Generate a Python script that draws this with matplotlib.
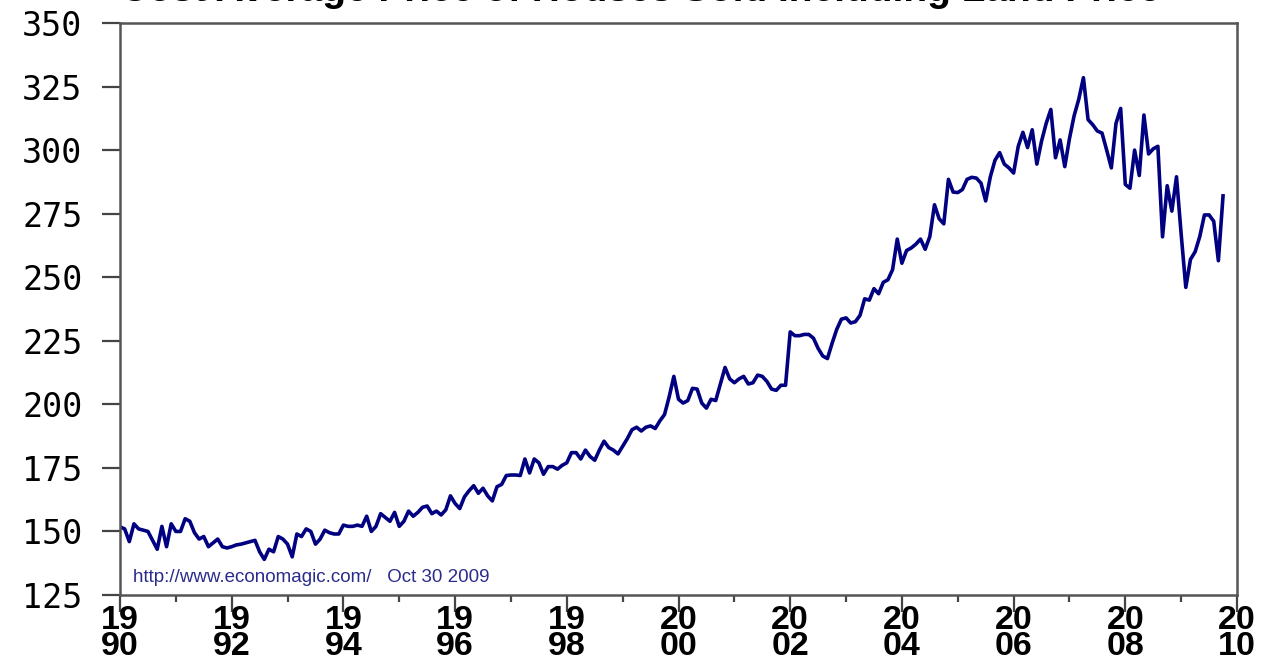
import matplotlib
matplotlib.use("Agg")
import matplotlib.pyplot as plt
import numpy as np

# monthly values, Jan 1990 onwards (thousand $)
start_year = 1990
price = [
    # 1990
    151.8, 151, 146, 153, 151, 150.5, 150, 146.5, 143, 152, 144, 153,
    # 1991
    150, 150, 155, 154, 149.5, 147, 148, 144, 145.5, 147, 144, 143.5,
    # 1992
    144, 144.7, 145, 145.5, 146, 146.5, 142, 139, 143, 142, 148, 147,
    # 1993
    145, 140, 149, 148, 151, 150, 145, 147, 150.5, 149.5, 149, 149,
    # 1994
    152.5, 152, 152, 152.5, 152, 156, 150, 152, 157, 155.5, 154, 157.5,
    # 1995
    152, 154, 158, 156, 157.5, 159.5, 160, 157, 158, 156.5, 158.5, 164,
    # 1996
    161, 159, 163.6, 166, 168, 165, 167, 164, 162, 167.6, 168.5, 172,
    # 1997
    172.2, 172.2, 172, 178.5, 173, 178.5, 177, 172.5, 175.5, 175.5, 174.5, 176,
    # 1998
    177, 181, 181, 178.5, 182, 179.5, 178, 182, 185.5, 183, 182, 180.5,
    # 1999
    183.5, 186.5, 190, 191, 189.5, 191, 191.5, 190.5, 193.5, 196, 203, 211,
    # 2000
    202, 200.5, 201.5, 206.3, 206, 200.5, 198.5, 202, 201.5, 208, 214.5, 210,
    # 2001
    208.5, 210, 211, 208, 208.5, 211.5, 211, 209, 206, 205.5, 207.5, 207.5,
    # 2002
    228.5, 227, 227, 227.5, 227.5, 226, 222, 219, 218, 224, 229.5, 233.5,
    # 2003
    234, 232, 232.5, 235, 241.5, 241, 245.5, 243.5, 248, 249, 253, 265,
    # 2004
    255.5, 260.5, 261.5, 263, 265, 261, 266, 278.5, 273, 271, 288.5, 283.5,
    # 2005
    283.3, 284.5, 288.5, 289.3, 289, 287, 280, 289.5, 296, 299, 294.5, 293,
    # 2006
    291, 301.5, 307, 301, 308, 294.5, 303.5, 310.5, 316, 297, 304, 293.5,
    # 2007
    304.5, 313.5, 320, 328.5, 312, 310, 307.5, 306.7, 300, 293, 310.5, 316.4,
    # 2008
    286.5, 285, 300, 290, 313.8, 298.5, 300.5, 301.5, 265.9, 286, 276, 289.5,
    # 2009
    267, 246, 257, 260, 266, 274.5, 274.5, 272, 256.5, 282,
]

y_ticks = [125, 150, 175, 200, 225, 250, 275, 300, 325, 350]
x_major = list(range(1990, 2011, 2))
x_minor = list(range(1991, 2010, 2))
x_labels = [f"{y // 100}\n{y % 100:02d}" for y in x_major]

title = "Cost Average Price of Houses Sold Including Land Price"
source = "http://www.economagic.com/   Oct 30 2009"

t = start_year + np.arange(len(price)) / 12.0

W, H = 1261, 664
fig = plt.figure(figsize=(W / 100, H / 100), dpi=100)
ax = fig.add_axes([120 / W, (H - 595) / H, 1117 / W, 572 / H])

ax.plot(t, price, color="#000080", lw=2.6, solid_joinstyle="round")

ax.set_xlim(1990, 2010)
ax.set_ylim(125, 350)
ax.set_yticks(y_ticks)
ax.set_yticklabels([str(v) for v in y_ticks], fontfamily="DejaVu Sans Mono",
                   fontsize=24)
ax.set_xticks(x_major)
ax.set_xticks(x_minor, minor=True)
ax.set_xticklabels(x_labels, fontfamily="Liberation Sans",
                   fontweight="bold", fontsize=24.5, linespacing=0.8)

ax.tick_params(axis="y", direction="out", length=13, width=1.6, color="#444444", pad=14)
ax.tick_params(axis="x", which="major", direction="out", length=12, width=1.6,
               color="#444444", pad=-5)
ax.tick_params(axis="x", which="minor", direction="out", length=5, width=1.6,
               color="#444444")

for s in ax.spines.values():
    s.set_color("#555555")
    s.set_linewidth(1.8)

ax.text(0.012, 0.03, source, transform=ax.transAxes, fontsize=13.5,
        color="#2b2b8c", fontfamily="Liberation Sans", va="center")

fig.text(640 / W, 1 - 1 / H, title, ha="center", va="baseline",
         fontsize=28, fontweight="bold", fontfamily="Liberation Sans")

fig.savefig("out.png", dpi=100)
